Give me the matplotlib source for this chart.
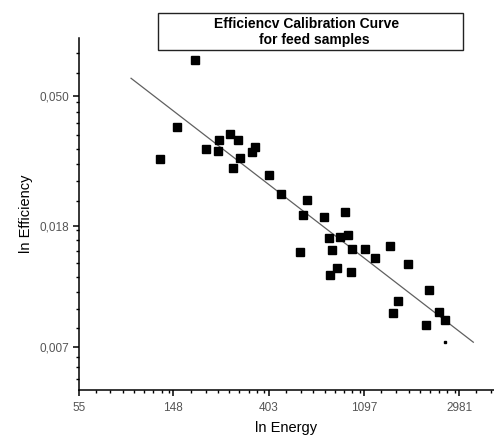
import numpy as np
import matplotlib
matplotlib.use("Agg")
import matplotlib.pyplot as plt
from matplotlib.ticker import FixedLocator, FixedFormatter, LogLocator, NullFormatter
from matplotlib.patches import Rectangle

plt.rcParams['font.family'] = ['Liberation Sans', 'DejaVu Sans']

# measured points (energy, efficiency)
energy = [186, 153.5, 128.8, 208.8, 240.1, 236.1, 268.9, 292.2, 298.4, 276.5,
          349.1, 337.4, 406.2, 459.0, 605.2, 576.6, 718.9, 901.9, 760.7, 853.3,
          925.2, 558.9, 784.6, 964.7, 1110, 1229, 1439, 829.8, 766.1, 955.0,
          1744, 2168, 1571, 1494, 2416, 2580, 2101]
efficiency = [0.0661, 0.0392, 0.0304, 0.0329, 0.0353, 0.0324, 0.0371, 0.0353, 0.0306, 0.0284,
              0.0335, 0.0322, 0.0269, 0.0231, 0.0221, 0.0197, 0.0193, 0.0201, 0.01644, 0.01657,
              0.01683, 0.01467, 0.01490, 0.01505, 0.01505, 0.01406, 0.01538, 0.01294, 0.01231, 0.01260,
              0.01338, 0.01089, 0.01002, 0.00912, 0.00917, 0.00861, 0.00832]
# one tiny point
small_energy = [2573]
small_efficiency = [0.00725]

# calibration fit line ends
fit_energy = [95, 3463]
fit_efficiency = [0.0573, 0.00725]

x_ticks = [55, 148, 403, 1097, 2981]
x_labels = ['55', '148', '403', '1097', '2981']
y_ticks = [0.050, 0.018, 0.007]
y_labels = ['0,050', '0,018', '0,007']

fig = plt.figure(figsize=(4.94, 4.37), dpi=100)
ax = fig.add_axes([0.160, 0.1076, 0.84, 0.8054])

ax.plot(fit_energy, fit_efficiency, color='#606060', lw=0.9, zorder=2)
ax.plot(energy, efficiency, 's', color='black', ms=5.3, zorder=3)
ax.plot(small_energy, small_efficiency, 's', color='black', ms=1.6, zorder=3)

ax.set_xscale('log', base=np.e)
ax.set_yscale('log', base=np.e)
ax.set_xlim(55, 4304)
ax.set_ylim(np.exp(-5.301), np.exp(-2.544))

subs = [1.2, 1.4, 1.6, 1.8, 2.0, 2.2, 2.4, 2.6]
for axis, ticks, labels in ((ax.xaxis, x_ticks, x_labels), (ax.yaxis, y_ticks, y_labels)):
    axis.set_major_locator(FixedLocator(ticks))
    axis.set_major_formatter(FixedFormatter(labels))
    axis.set_minor_locator(LogLocator(base=np.e, subs=subs, numticks=20))
    axis.set_minor_formatter(NullFormatter())

ax.spines['top'].set_visible(False)
ax.spines['right'].set_visible(False)
for s in ('left', 'bottom'):
    ax.spines[s].set_linewidth(1.1)
ax.tick_params(which='major', direction='out', length=4, width=1.1,
               labelsize=8.5, labelcolor='#555555', pad=3)
ax.tick_params(axis='x', which='major', pad=5)
ax.tick_params(which='minor', direction='out', length=2.2, width=1.0)

ax.set_xlabel('ln Energy', fontsize=10.5, labelpad=5)
ax.set_ylabel('ln Efficiency', fontsize=10.5, labelpad=5)

# title box
fig.patches.append(Rectangle((0.320, 0.8856), 0.617, 0.0843, transform=fig.transFigure,
                             facecolor='white', edgecolor='#222222', lw=1.0, zorder=5))
fig.text(0.620, 0.944, 'Efficiencv Calibration Curve', ha='center', va='center',
         fontsize=10, fontweight='bold', zorder=6)
fig.text(0.637, 0.909, 'for feed samples', ha='center', va='center',
         fontsize=10, fontweight='bold', zorder=6)

fig.savefig('out.png', dpi=100)
